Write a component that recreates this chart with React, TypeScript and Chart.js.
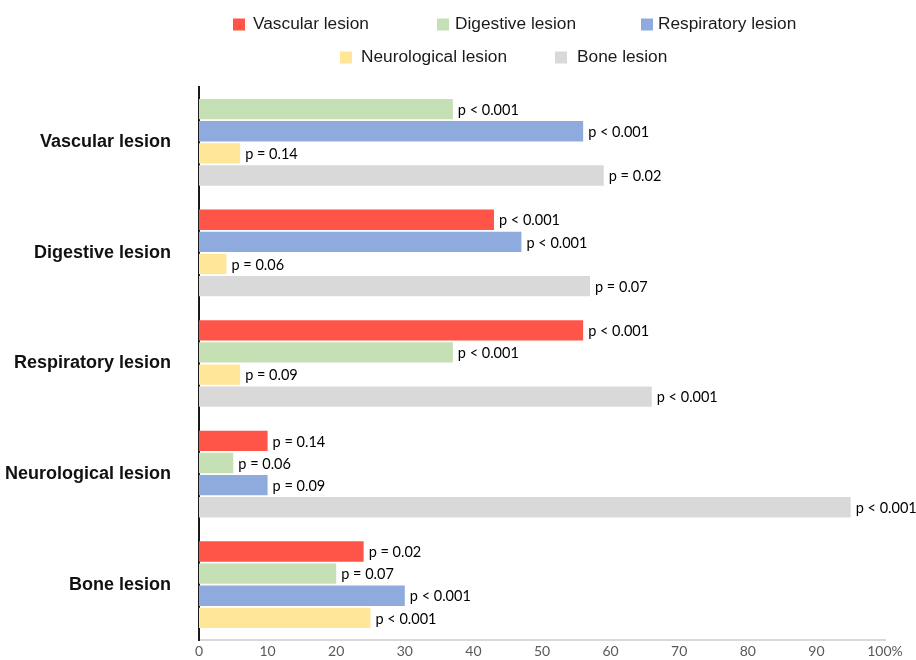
import React, { useEffect, useRef } from "react";
import { Chart, registerables } from "chart.js";

Chart.register(...registerables);

const categories = [
  "Vascular lesion",
  "Digestive lesion",
  "Respiratory lesion",
  "Neurological lesion",
  "Bone lesion",
];

const seriesNames = [
  "Vascular lesion",
  "Digestive lesion",
  "Respiratory lesion",
  "Neurological lesion",
  "Bone lesion",
];

const seriesColors = ["#FF5549", "#C5E0B4", "#8FAADC", "#FFE699", "#D9D9D9"];

// percentage values per series, indexed by category
const vascularValues = [null, 43, 56, 10, 24];
const digestiveValues = [37, null, 37, 5, 20];
const respiratoryValues = [56, 47, null, 10, 30];
const neurologicalValues = [6, 4, 6, null, 25];
const boneValues = [59, 57, 66, 95, null];

// p-value labels per series, indexed by category
const vascularP = [null, "p < 0.001", "p < 0.001", "p = 0.14", "p = 0.02"];
const digestiveP = ["p < 0.001", null, "p < 0.001", "p = 0.06", "p = 0.07"];
const respiratoryP = ["p < 0.001", "p < 0.001", null, "p = 0.09", "p < 0.001"];
const neurologicalP = ["p = 0.14", "p = 0.06", "p = 0.09", null, "p < 0.001"];
const boneP = ["p = 0.02", "p = 0.07", "p < 0.001", "p < 0.001", null];

const xMin = 0;
const xMax = 100;
const xStep = 10;

const allValues = [vascularValues, digestiveValues, respiratoryValues, neurologicalValues, boneValues];
const allP = [vascularP, digestiveP, respiratoryP, neurologicalP, boneP];

const pLabelPlugin = {
  id: "pLabels",
  afterDatasetsDraw(chart: any) {
    const ctx = chart.ctx;
    ctx.save();
    ctx.font = "14.5px Lato";
    ctx.fillStyle = "#000";
    ctx.textAlign = "left";
    ctx.textBaseline = "middle";
    chart.data.datasets.forEach((ds: any, di: number) => {
      const meta = chart.getDatasetMeta(di);
      meta.data.forEach((el: any, i: number) => {
        const label = allP[di][i];
        if (label == null || ds.data[i] == null) return;
        ctx.fillText(label, el.x + 5, el.y + 1);
      });
    });
    ctx.restore();
  },
};

const legendPlugin = {
  id: "manualLegend",
  afterDraw(chart: any) {
    const ctx = chart.ctx;
    const items = [
      { i: 0, bx: 233, tx: 253, y: 24.5 },
      { i: 1, bx: 437, tx: 455, y: 24.5 },
      { i: 2, bx: 641, tx: 658, y: 24.5 },
      { i: 3, bx: 340, tx: 361, y: 57.5 },
      { i: 4, bx: 555, tx: 577, y: 57.5 },
    ];
    ctx.save();
    ctx.font = "17.3px 'Liberation Sans'";
    ctx.textAlign = "left";
    ctx.textBaseline = "middle";
    items.forEach((it) => {
      ctx.fillStyle = seriesColors[it.i];
      ctx.fillRect(it.bx, it.y - 6, 12, 12);
      ctx.fillStyle = "#1a1a1a";
      ctx.fillText(seriesNames[it.i], it.tx, it.y);
    });
    ctx.restore();
  },
};

export default function App() {
  const canvasRef = useRef<HTMLCanvasElement | null>(null);

  useEffect(() => {
    document.body.style.margin = "0";
    const canvas = canvasRef.current;
    if (!canvas) return;
    const chart = new Chart(canvas, {
      type: "bar",
      data: {
        labels: categories,
        datasets: seriesNames.map((name, k) => ({
          label: name,
          data: allValues[k] as any,
          backgroundColor: seriesColors[k],
          borderWidth: 0,
          skipNull: true,
          barPercentage: 0.92,
          categoryPercentage: 0.8,
        })),
      },
      options: {
        indexAxis: "y",
        animation: false,
        responsive: false,
        layout: { padding: { top: 87, right: 31, bottom: 0, left: 0 } },
        plugins: {
          legend: { display: false },
          tooltip: { enabled: false },
        },
        scales: {
          x: {
            type: "linear",
            min: xMin,
            max: xMax,
            grid: { display: false, drawTicks: false },
            border: { display: true, color: "#D9D9D9", width: 2 },
            ticks: {
              stepSize: xStep,
              padding: 3,
              color: "#595959",
              font: { family: "Lato", size: 14 },
              callback: (v: any) => (v === xMax ? `${v}%` : `${v}`),
            },
            afterFit: (s: any) => {
              s.height = 20;
              s.paddingLeft = 0;
              s.paddingRight = 0;
            },
          },
          y: {
            type: "category",
            grid: { display: false, drawTicks: false },
            border: { display: true, color: "#1a1a1a", width: 2 },
            ticks: {
              padding: 28,
              color: "#111",
              font: { family: "'Liberation Sans'", size: 18, weight: "bold" },
            },
            afterFit: (s: any) => {
              s.width = 199;
              s.paddingTop = 0;
              s.paddingBottom = 0;
            },
          },
        },
      } as any,
      plugins: [pLabelPlugin, legendPlugin],
    });
    return () => chart.destroy();
  }, []);

  return (
    <div style={{ width: 916, height: 660 }}>
      <canvas ref={canvasRef} width={916} height={660} style={{ display: "block" }} />
    </div>
  );
}
